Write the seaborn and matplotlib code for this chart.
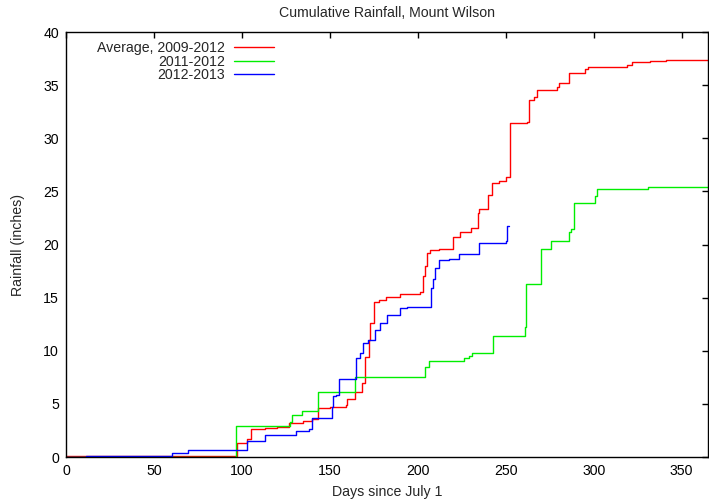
import matplotlib
matplotlib.use("Agg")
import matplotlib.pyplot as plt
import seaborn as sns

# Cumulative rainfall (days since July 1, inches)
avg_days = [0, 60, 97, 103, 105, 113, 120, 127, 135, 140, 143, 150, 159, 160, 164.5,
            168, 170, 172, 173, 175, 178, 182, 190, 201, 203, 204, 205, 207, 212,
            220, 224, 230, 234, 235, 240, 242, 246, 250, 252.7, 262, 263.5, 266,
            267.5, 279, 280, 286, 295, 297, 319, 322, 332, 341, 365]
avg_rain = [0.05, 0.1, 1.3, 1.7, 2.65, 2.75, 2.85, 3.2, 3.4, 3.6, 4.6, 4.7, 4.9, 5.5, 6.1,
            7.0, 9.4, 11.0, 12.6, 14.6, 14.8, 15.1, 15.3, 15.5, 17.0, 18.0, 19.2, 19.5, 19.6,
            20.7, 21.2, 21.6, 23.0, 23.3, 24.7, 25.8, 26.0, 26.4, 31.4, 31.5, 33.6, 33.9,
            34.5, 34.8, 35.2, 36.1, 36.5, 36.7, 36.9, 37.2, 37.3, 37.4, 37.4]

y2011_days = [0, 96.8, 127.5, 128.5, 134, 143, 164.5, 204, 206.6, 226, 229, 231, 242.5,
              261.2, 261.8, 269.8, 275.5, 285.9, 286.9, 288.8, 301, 302, 331, 365]
y2011_rain = [0.0, 2.95, 3.3, 4.0, 4.35, 6.15, 7.55, 8.5, 9.06, 9.3, 9.5, 9.8, 11.4,
              12.2, 16.25, 19.6, 20.3, 21.2, 21.5, 23.9, 24.55, 25.2, 25.4, 25.4]

y2012_days = [0, 11.4, 60, 69.6, 102.8, 112.9, 130.7, 138.3, 139.8, 151.2, 152, 153.7,
              155, 165, 167, 169, 171.7, 175.9, 178.3, 182.5, 190, 194, 207.5, 208.5,
              210, 212, 217.5, 223.7, 234.7, 250, 250.8, 251.7]
y2012_rain = [0.0, 0.1, 0.35, 0.63, 1.54, 2.07, 2.45, 2.63, 3.64, 4.7, 5.7, 5.8,
              7.3, 9.3, 9.75, 10.75, 11.0, 12.0, 12.6, 13.4, 14.0, 14.1, 15.9, 16.8,
              17.8, 18.5, 18.6, 19.1, 20.1, 20.35, 21.7, 21.7]

labels = ["Average, 2009-2012", "2011-2012", "2012-2013"]
colors = ["#ff0000", "#00ee00", "#0000ff"]

FS = 10.2

sns.set_theme(style="white")
plt.rcParams["font.family"] = ["Liberation Sans", "DejaVu Sans"]

fig = plt.figure(figsize=(7.09, 5.01), dpi=100)
ax = fig.add_axes([0.0931, 0.0878, 0.9055, 0.8482])

series = [(avg_days, avg_rain), (y2011_days, y2011_rain), (y2012_days, y2012_rain)]
for (d, r), lab, col in zip(series, labels, colors):
    sns.lineplot(x=d, y=r, ax=ax, label=lab, color=col, linewidth=1.0,
                 drawstyle="steps-post", estimator=None, sort=False)

ax.set_xlim(0, 365)
ax.set_ylim(0, 40)
ax.set_xticks(range(0, 351, 50))
ax.set_yticks(range(0, 41, 5))
ax.tick_params(direction="in", length=4, width=1, top=True, right=True,
               labelsize=FS, colors="black", pad=5)
for s in ax.spines.values():
    s.set_color("black")
    s.set_linewidth(1.0)

ax.set_title("Cumulative Rainfall, Mount Wilson", fontsize=FS, pad=11)
ax.set_xlabel("Days since July 1", fontsize=FS, labelpad=5)
ax.set_ylabel("Rainfall (inches)", fontsize=FS, labelpad=13)

ax.legend(loc="upper left", bbox_to_anchor=(0.034, 1.0), frameon=False,
          markerfirst=False, fontsize=FS, handlelength=2.8, handletextpad=0.63,
          labelspacing=-0.05, borderaxespad=0.25)

fig.savefig("out.png", dpi=100)
